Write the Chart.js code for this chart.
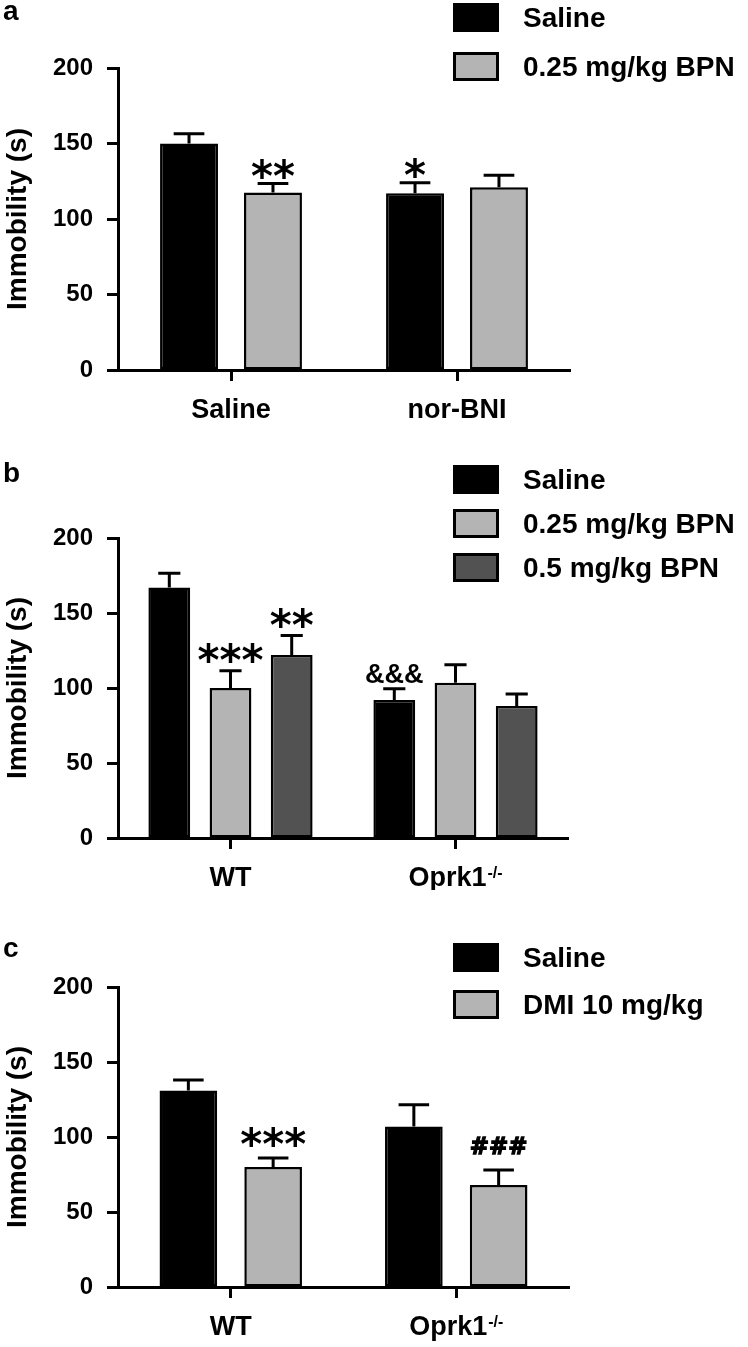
<!DOCTYPE html>
<html><head><meta charset="utf-8">
<script src="https://cdn.jsdelivr.net/npm/chart.js@4.4.0/dist/chart.umd.min.js"></script>
<style>
html,body{margin:0;padding:0;background:#fff;}
body{width:748px;height:1347px;position:relative;overflow:hidden;}
.panel{position:absolute;left:0;width:748px;}
canvas{display:block;}
</style></head><body>
<div class="panel" style="top:0;height:440px"><canvas id="ca" width="748" height="440"></canvas></div>
<div class="panel" style="top:440px;height:450px"><canvas id="cb" width="748" height="450"></canvas></div>
<div class="panel" style="top:890px;height:457px"><canvas id="cc" width="748" height="457"></canvas></div>
<script>
// ---------- DATA ----------
const yTicks = [0, 50, 100, 150, 200];
const yTitle = 'Immobility (s)';

// Panel a
const catsA = ['Saline', 'nor-BNI'];
const seriesA = ['Saline', '0.25 mg/kg BPN'];
const salineA = [150, 117];
const salineA_sem = [6.5, 7];
const salineA_sig = ['', '*'];
const bpnA = [117.5, 121];
const bpnA_sem = [6, 8];
const bpnA_sig = ['**', ''];

// Panel b
const catsB = ['WT', 'Oprk1-/-'];
const seriesB = ['Saline', '0.25 mg/kg BPN', '0.5 mg/kg BPN'];
const salineB = [167, 92];
const salineB_sem = [9.5, 7.5];
const salineB_sig = ['', '&&&'];
const bpn025B = [100, 103.5];
const bpn025B_sem = [11.5, 12];
const bpn025B_sig = ['***', ''];
const bpn05B = [122, 88];
const bpn05B_sem = [13, 8];
const bpn05B_sig = ['**', ''];

// Panel c
const catsC = ['WT', 'Oprk1-/-'];
const seriesC = ['Saline', 'DMI 10 mg/kg'];
const salineC = [131, 107];
const salineC_sem = [7, 14.5];
const salineC_sig = ['', ''];
const dmiC = [80, 68];
const dmiC_sem = [6, 10];
const dmiC_sig = ['***', '###'];

// ---------- STYLE ----------
const FONT = '"Liberation Sans", Arial, Helvetica, sans-serif';
const BLACK = '#000000', LIGHT = '#b4b4b4', DARK = '#525252';

function markFont(t) {
  if (t.indexOf('*') >= 0) return 'bold 42px "DejaVu Sans", sans-serif';
  if (t.indexOf('&') >= 0) return 'bold 27px ' + FONT;
  return 'bold 23px "DejaVu Sans", sans-serif';
}

const extras = {
  id: 'extras',
  afterDatasetsDraw(chart, args, opts) {
    const ctx = chart.ctx;
    const ys = chart.scales.y;
    ctx.save();
    chart.data.datasets.forEach((ds, i) => {
      const meta = chart.getDatasetMeta(i);
      meta.data.forEach((bar, j) => {
        const top = ys.getPixelForValue(ds.data[j] + ds.sem[j]);
        const half = bar.width * opts.capRatio / 2;
        ctx.strokeStyle = '#000'; ctx.lineWidth = 3; ctx.lineCap = 'butt';
        ctx.beginPath();
        ctx.moveTo(bar.x, bar.y); ctx.lineTo(bar.x, top);
        ctx.moveTo(bar.x - half, top); ctx.lineTo(bar.x + half, top);
        ctx.stroke();
        const t = ds.sig[j];
        if (t) {
          ctx.font = markFont(t);
          ctx.fillStyle = '#000';
          ctx.textAlign = 'center';
          ctx.textBaseline = 'alphabetic';
          const m = ctx.measureText(t);
          const gap = (opts.gaps[t[0]] !== undefined) ? opts.gaps[t[0]] : 4;
          const bottom = top - 1.5 - gap;
          const by = bottom - m.actualBoundingBoxDescent;
          ctx.fillText(t, bar.x, by);
          if (t[0] === '#') { ctx.lineWidth = 1.3; ctx.strokeStyle = '#000'; ctx.strokeText(t, bar.x, by); }
        }
      });
    });
    ctx.restore();
  },
  afterDraw(chart, args, opts) {
    const ctx = chart.ctx;
    ctx.save();
    // category labels (with superscript)
    const xs = chart.scales.x;
    chart.data.labels.forEach((lab, i) => {
      const x = xs.getPixelForValue(i);
      const mm = lab.match(/^(.*?)(-\/-)$/);
      const base = mm ? mm[1] : lab;
      const sup = mm ? mm[2] : '';
      ctx.font = 'bold 27px ' + FONT;
      const wb = ctx.measureText(base).width;
      ctx.font = 'bold 16px ' + FONT;
      const ws = sup ? ctx.measureText(sup).width + 1 : 0;
      const start = x - (wb + ws) / 2;
      const by = chart.chartArea.bottom + 48;
      ctx.fillStyle = '#000'; ctx.textAlign = 'left'; ctx.textBaseline = 'alphabetic';
      ctx.font = 'bold 27px ' + FONT;
      ctx.fillText(base, start, by);
      if (sup) { ctx.font = 'bold 16px ' + FONT; ctx.fillText(sup, start + wb + 1, by - 8); }
    });
    // legend
    chart.data.datasets.forEach((ds, i) => {
      const top = opts.legendTop + i * opts.legendStep;
      ctx.fillStyle = ds.backgroundColor;
      ctx.fillRect(453, top, 46, 29);
      ctx.strokeStyle = '#000'; ctx.lineWidth = 3;
      ctx.strokeRect(454.5, top + 1.5, 43, 26);
      ctx.fillStyle = '#000'; ctx.font = 'bold 28px ' + FONT;
      ctx.textAlign = 'left'; ctx.textBaseline = 'middle';
      ctx.fillText(ds.label, 523, top + 16);
    });
    // panel letter
    ctx.font = 'bold 28px ' + FONT; ctx.textAlign = 'left'; ctx.textBaseline = 'alphabetic';
    ctx.fillText(opts.letter, 3, opts.letterY);
    ctx.restore();
  }
};

function makeChart(id, cats, names, vals, sems, sigs, colors, geo) {
  const datasets = names.map((n, i) => ({
    label: n, data: vals[i], sem: sems[i], sig: sigs[i],
    backgroundColor: colors[i], borderColor: '#000', borderWidth: 2.5,
    borderSkipped: false,
    categoryPercentage: geo.cp, barPercentage: geo.bp
  }));
  const H = document.getElementById(id).height;
  return new Chart(document.getElementById(id), {
    type: 'bar',
    data: { labels: cats, datasets },
    plugins: [extras],
    options: {
      responsive: false, animation: false, devicePixelRatio: 1,
      layout: { padding: { top: geo.top, right: 748 - geo.right, left: 0, bottom: 0 } },
      plugins: {
        legend: { display: false }, tooltip: { enabled: false },
        extras: { capRatio: 0.53, gaps: geo.gaps, legendTop: geo.legendTop, legendStep: geo.legendStep, letter: geo.letter, letterY: geo.letterY }
      },
      scales: {
        x: {
          z: 1,
          grid: { offset: false, drawOnChartArea: false, drawTicks: true, tickLength: 11, tickWidth: 3, tickColor: '#000' },
          border: { display: true, color: '#000', width: 3 },
          ticks: { display: false },
          afterFit(s) { s.height = H - geo.bottom; }
        },
        y: {
          z: 1,
          min: yTicks[0], max: yTicks[yTicks.length - 1],
          afterBuildTicks(s) { s.ticks = yTicks.map(v => ({ value: v })); },
          grid: { drawOnChartArea: false, drawTicks: true, tickLength: 11, tickWidth: 3, tickColor: '#000' },
          border: { display: true, color: '#000', width: 3 },
          ticks: { color: '#000', padding: 14, font: { family: FONT, size: 24, weight: 'bold' } },
          title: { display: true, text: yTitle, color: '#000', padding: { top: 1, bottom: 0 }, font: { family: FONT, size: 28, weight: 'bold' } },
          afterFit(s) { s.width = 118; }
        }
      }
    }
  });
}

makeChart('ca', catsA, seriesA, [salineA, bpnA], [salineA_sem, bpnA_sem], [salineA_sig, bpnA_sig],
  [BLACK, LIGHT],
  { top: 68, bottom: 370, right: 570, cp: 0.743, bp: 0.69, gaps: { '*': 3 }, legendTop: 3, legendStep: 49, letter: 'a', letterY: 20 });

makeChart('cb', catsB, seriesB, [salineB, bpn025B, bpn05B], [salineB_sem, bpn025B_sem, bpn05B_sem], [salineB_sig, bpn025B_sig, bpn05B_sig],
  [BLACK, LIGHT, DARK],
  { top: 98, bottom: 398, right: 568, cp: 0.816, bp: 0.683, gaps: { '*': 6, '&': 4 }, legendTop: 25, legendStep: 44, letter: 'b', letterY: 42 });

makeChart('cc', catsC, seriesC, [salineC, dmiC], [salineC_sem, dmiC_sem], [salineC_sig, dmiC_sig],
  [BLACK, LIGHT],
  { top: 97, bottom: 397, right: 569, cp: 0.752, bp: 0.68, gaps: { '*': 10, '#': 15 }, legendTop: 53, legendStep: 47, letter: 'c', letterY: 67 });
</script>
</body></html>
